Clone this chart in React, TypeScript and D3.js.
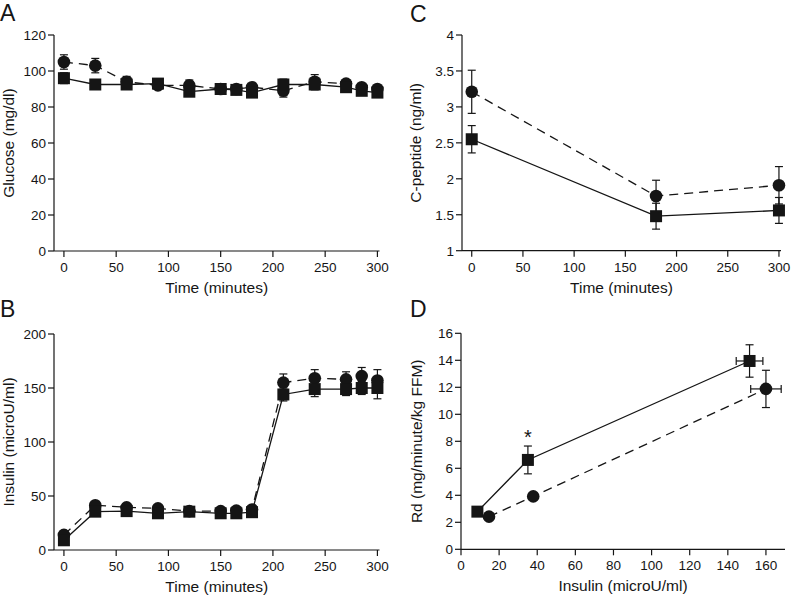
import React from "react";
import * as d3 from "d3";

// ---------- DATA ----------
const timesAB = [0, 30, 60, 90, 120, 150, 165, 180, 210, 240, 270, 285, 300];
const glucoseCircle = [105, 103, 94, 92, 92, 90, 90, 91, 89, 94, 93, 91, 90];
const glucoseCircleErr = [4, 4, 3, 2, 3, 2, 2, 2, 3.5, 4, 2, 2, 2];
const glucoseSquare = [96, 92.5, 92.5, 93, 88.5, 90, 89.5, 88, 92.5, 92.5, 91, 89, 88];
const glucoseSquareErr = [3, 2, 2, 2, 2, 2, 2, 2, 3, 3, 2, 2, 2];

const insulinCircle = [14, 41.5, 39.5, 38.5, 36, 36, 36.5, 37.5, 155, 159, 158, 161, 157];
const insulinCircleErr = [3, 3, 3, 3, 3, 3, 3, 3, 8, 8, 7, 8, 10];
const insulinSquare = [9, 35.5, 36, 34, 35.5, 34, 34, 35, 144, 149, 149, 150, 150];
const insulinSquareErr = [2, 3, 3, 3, 3, 3, 3, 3, 6, 7, 6, 6, 10];

const timesC = [0, 180, 300];
const cpepCircle = [3.21, 1.76, 1.91];
const cpepCircleErr = [0.3, 0.22, 0.26];
const cpepSquare = [2.55, 1.48, 1.56];
const cpepSquareErr = [0.19, 0.18, 0.18];

const rdSquareX = [8.6, 35.1, 151.4];
const rdSquareY = [2.79, 6.62, 13.95];
const rdSquareYErr = [0.15, 1.03, 1.2];
const rdSquareXErr = [0, 0, 7];
const rdCircleX = [14.7, 37.9, 160];
const rdCircleY = [2.42, 3.92, 11.88];
const rdCircleYErr = [0.12, 0.2, 1.38];
const rdCircleXErr = [0, 0, 8];

const timeTicks = [0, 50, 100, 150, 200, 250, 300];
const glucoseTicks = [0, 20, 40, 60, 80, 100, 120];
const insulinTicks = [0, 50, 100, 150, 200];
const cpepTicks = [1, 1.5, 2, 2.5, 3, 3.5, 4];
const rdTicks = [0, 2, 4, 6, 8, 10, 12, 14, 16];
const insulinXTicks = [0, 20, 40, 60, 80, 100, 120, 140, 160];

// ---------- STYLE ----------
const FONT = "'Liberation Sans', Arial, Helvetica, sans-serif";
const INK = "#151515";

type Series = {
  xs: number[];
  ys: number[];
  yerr: number[];
  xerr?: number[];
  marker: "circle" | "square";
  dashed: boolean;
};

type PanelProps = {
  xScale: d3.ScaleLinear<number, number>;
  yScale: d3.ScaleLinear<number, number>;
  xTicks: number[];
  yTicks: number[];
  xTitle: string;
  yTitle: string;
  yTitleX: number;
  letter: string;
  letterX: number;
  letterY: number;
  series: Series[];
  children?: React.ReactNode;
};

function Panel(p: PanelProps) {
  const { xScale, yScale } = p;
  const [x0, x1] = xScale.range();
  const [yb, yt] = yScale.range();
  const line = (s: Series) =>
    d3
      .line<number>()
      .x((_, i) => xScale(s.xs[i]))
      .y((v) => yScale(v))(s.ys) || "";
  const cap = 4;
  return (
    <g>
      <text x={p.letterX} y={p.letterY} fontSize={23} fontFamily={FONT} fill={INK}>
        {p.letter}
      </text>
      {/* axes */}
      <line x1={x0} x2={x0} y1={yb} y2={yt} stroke={INK} strokeWidth={1.2} />
      <line x1={x0} x2={x1} y1={yb} y2={yb} stroke={INK} strokeWidth={1.2} />
      {p.yTicks.map((t) => (
        <g key={"y" + t}>
          <line x1={x0 - 6} x2={x0} y1={yScale(t)} y2={yScale(t)} stroke={INK} strokeWidth={1.2} />
          <text
            x={x0 - 8}
            y={yScale(t)}
            dy="0.36em"
            textAnchor="end"
            fontSize={13.5}
            fontFamily={FONT}
            fill={INK}
          >
            {String(t)}
          </text>
        </g>
      ))}
      {p.xTicks.map((t) => (
        <g key={"x" + t}>
          <line x1={xScale(t)} x2={xScale(t)} y1={yb} y2={yb + 6} stroke={INK} strokeWidth={1.2} />
          <text
            x={xScale(t)}
            y={yb + 21}
            textAnchor="middle"
            fontSize={13.5}
            fontFamily={FONT}
            fill={INK}
          >
            {String(t)}
          </text>
        </g>
      ))}
      <text
        x={(x0 + x1) / 2}
        y={yb + 42}
        textAnchor="middle"
        fontSize={15.5}
        fontFamily={FONT}
        fill={INK}
      >
        {p.xTitle}
      </text>
      <text
        transform={`translate(${p.yTitleX},${(yb + yt) / 2}) rotate(-90)`}
        textAnchor="middle"
        fontSize={15.5}
        fontFamily={FONT}
        fill={INK}
      >
        {p.yTitle}
      </text>
      {/* lines */}
      {p.series.map((s, k) => (
        <path
          key={"l" + k}
          d={line(s)}
          fill="none"
          stroke={INK}
          strokeWidth={1.3}
          strokeDasharray={s.dashed ? "9,6" : undefined}
        />
      ))}
      {/* error bars */}
      {p.series.map((s, k) =>
        s.ys.map((v, i) => {
          const cx = xScale(s.xs[i]);
          const yTop = yScale(v + s.yerr[i]);
          const yBot = yScale(v - s.yerr[i]);
          const xe = s.xerr ? s.xerr[i] : 0;
          return (
            <g key={`e${k}-${i}`} stroke={INK} strokeWidth={1.2}>
              <line x1={cx} x2={cx} y1={yTop} y2={yBot} />
              <line x1={cx - cap} x2={cx + cap} y1={yTop} y2={yTop} />
              <line x1={cx - cap} x2={cx + cap} y1={yBot} y2={yBot} />
              {xe > 0 && (
                <>
                  <line x1={xScale(s.xs[i] - xe)} x2={xScale(s.xs[i] + xe)} y1={yScale(v)} y2={yScale(v)} />
                  <line
                    x1={xScale(s.xs[i] - xe)}
                    x2={xScale(s.xs[i] - xe)}
                    y1={yScale(v) - cap}
                    y2={yScale(v) + cap}
                  />
                  <line
                    x1={xScale(s.xs[i] + xe)}
                    x2={xScale(s.xs[i] + xe)}
                    y1={yScale(v) - cap}
                    y2={yScale(v) + cap}
                  />
                </>
              )}
            </g>
          );
        })
      )}
      {/* markers */}
      {p.series.map((s, k) =>
        s.ys.map((v, i) =>
          s.marker === "circle" ? (
            <circle key={`m${k}-${i}`} cx={xScale(s.xs[i])} cy={yScale(v)} r={6.3} fill={INK} />
          ) : (
            <rect
              key={`m${k}-${i}`}
              x={xScale(s.xs[i]) - 6}
              y={yScale(v) - 6}
              width={12}
              height={12}
              fill={INK}
            />
          )
        )
      )}
      {p.children}
    </g>
  );
}

export default function App() {
  const xAB = d3.scaleLinear().domain([-9.5, 302]).range([54, 379.5]);
  const yA = d3.scaleLinear().domain([0, 120]).range([251, 35]);
  const yB = d3.scaleLinear().domain([0, 200]).range([550, 334]);
  const xC = d3.scaleLinear().domain([-9.5, 302]).range([462, 781]);
  const yC = d3.scaleLinear().domain([1, 4]).range([250.7, 35]);
  const xD = d3.scaleLinear().domain([0, 170]).range([461, 785]);
  const yD = d3.scaleLinear().domain([0, 16]).range([549.3, 333.3]);

  return (
    <svg
      width={795}
      height={597}
      style={{ position: "absolute", left: 0, top: 0, background: "#fff" }}
    >
      <rect width={795} height={597} fill="#fff" />
      <Panel
        xScale={xAB}
        yScale={yA}
        xTicks={timeTicks}
        yTicks={glucoseTicks}
        xTitle="Time (minutes)"
        yTitle="Glucose (mg/dl)"
        yTitleX={14}
        letter="A"
        letterX={0}
        letterY={21}
        series={[
          { xs: timesAB, ys: glucoseCircle, yerr: glucoseCircleErr, marker: "circle", dashed: true },
          { xs: timesAB, ys: glucoseSquare, yerr: glucoseSquareErr, marker: "square", dashed: false },
        ]}
      />
      <Panel
        xScale={xAB}
        yScale={yB}
        xTicks={timeTicks}
        yTicks={insulinTicks}
        xTitle="Time (minutes)"
        yTitle="Insulin (microU/ml)"
        yTitleX={14}
        letter="B"
        letterX={0}
        letterY={317}
        series={[
          { xs: timesAB, ys: insulinCircle, yerr: insulinCircleErr, marker: "circle", dashed: true },
          { xs: timesAB, ys: insulinSquare, yerr: insulinSquareErr, marker: "square", dashed: false },
        ]}
      />
      <Panel
        xScale={xC}
        yScale={yC}
        xTicks={timeTicks}
        yTicks={cpepTicks}
        xTitle="Time (minutes)"
        yTitle="C-peptide (ng/ml)"
        yTitleX={421}
        letter="C"
        letterX={410}
        letterY={22}
        series={[
          { xs: timesC, ys: cpepCircle, yerr: cpepCircleErr, marker: "circle", dashed: true },
          { xs: timesC, ys: cpepSquare, yerr: cpepSquareErr, marker: "square", dashed: false },
        ]}
      />
      <Panel
        xScale={xD}
        yScale={yD}
        xTicks={insulinXTicks}
        yTicks={rdTicks}
        xTitle="Insulin (microU/ml)"
        yTitle="Rd (mg/minute/kg FFM)"
        yTitleX={422}
        letter="D"
        letterX={410}
        letterY={317}
        series={[
          {
            xs: rdCircleX,
            ys: rdCircleY,
            yerr: rdCircleYErr,
            xerr: rdCircleXErr,
            marker: "circle",
            dashed: true,
          },
          {
            xs: rdSquareX,
            ys: rdSquareY,
            yerr: rdSquareYErr,
            xerr: rdSquareXErr,
            marker: "square",
            dashed: false,
          },
        ]}
      >
        <text
          x={xD(rdSquareX[1])}
          y={yD(rdSquareY[1] + rdSquareYErr[1]) - 2}
          textAnchor="middle"
          fontSize={20}
          fontFamily={FONT}
          fill={INK}
        >
          *
        </text>
      </Panel>
    </svg>
  );
}
